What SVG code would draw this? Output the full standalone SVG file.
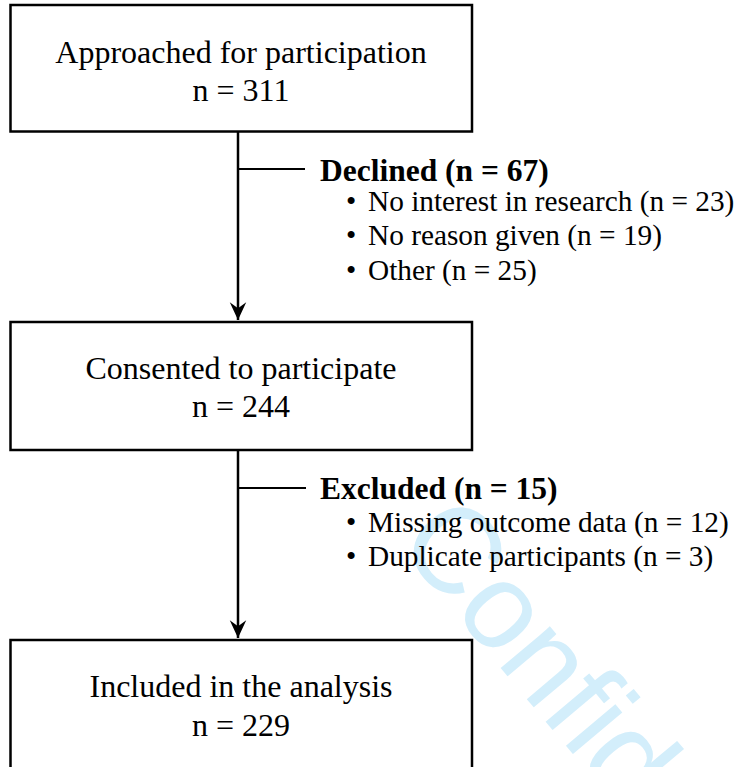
<svg xmlns="http://www.w3.org/2000/svg" width="737" height="767" viewBox="0 0 737 767">
<style>
.box{fill:none;stroke:#000;stroke-width:2.5}
.bt{font-family:"Liberation Serif","Times New Roman",serif;font-size:32px;fill:#000;text-anchor:middle}
.hd{font-family:"Liberation Serif","Times New Roman",serif;font-size:31.5px;font-weight:bold;fill:#000}
.it{font-family:"Liberation Serif","Times New Roman",serif;font-size:29.3px;fill:#000}
.ln{fill:none;stroke:#000;stroke-width:2.5}
.br{fill:none;stroke:#000;stroke-width:2}
.wm{font-family:"Liberation Sans",Arial,sans-serif;font-size:122px;fill:#d3eefb}
</style>
<defs>
<marker id="ah" markerUnits="userSpaceOnUse" markerWidth="20" markerHeight="20" viewBox="-16 -8 17 16" refX="0" refY="0" orient="auto">
<path d="M0,0 L-15,-7 L-10,0 L-15,7 Z" fill="#000"/>
</marker>
</defs>
<text class="wm" transform="translate(395,542) rotate(50)">Confid</text>
<g id="n1">
<rect class="box" x="10.5" y="5" width="461.5" height="126.5"/>
<text class="bt" x="241" y="62.5">Approached for participation</text>
<text class="bt" x="241" y="100.5">n = 311</text>
</g>
<g id="n2">
<rect class="box" x="10.5" y="322" width="461.5" height="128"/>
<text class="bt" x="241" y="378.5">Consented to participate</text>
<text class="bt" x="241" y="416.5">n = 244</text>
</g>
<g id="n3">
<rect class="box" x="10.5" y="640" width="461.5" height="130"/>
<text class="bt" x="241" y="697">Included in the analysis</text>
<text class="bt" x="241" y="735.5">n = 229</text>
</g>
<g id="declined">
<text class="hd" x="320" y="181">Declined (n = 67)</text>
<text class="it" x="346" y="211">•</text><text class="it" x="368" y="211">No interest in research (n = 23)</text>
<text class="it" x="346" y="245">•</text><text class="it" x="368" y="245">No reason given (n = 19)</text>
<text class="it" x="346" y="280">•</text><text class="it" x="368" y="280">Other (n = 25)</text>
</g>
<g id="excluded">
<text class="hd" x="320" y="499">Excluded (n = 15)</text>
<text class="it" x="346" y="532">•</text><text class="it" x="368" y="532">Missing outcome data (n = 12)</text>
<text class="it" x="346" y="566">•</text><text class="it" x="368" y="566">Duplicate participants (n = 3)</text>
</g>
<g id="connectors">
<line class="ln" x1="238" y1="132" x2="238" y2="320" marker-end="url(#ah)"/>
<line class="br" x1="238" y1="169" x2="305" y2="169"/>
<line class="ln" x1="238" y1="450" x2="238" y2="638" marker-end="url(#ah)"/>
<line class="br" x1="238" y1="488" x2="306" y2="488"/>
</g>
</svg>
